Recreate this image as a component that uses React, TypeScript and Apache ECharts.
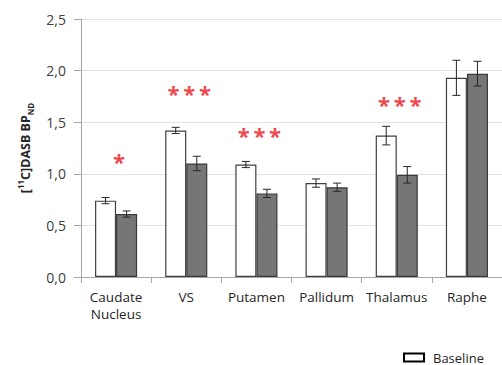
import React, { useEffect, useRef } from "react";
import * as echarts from "echarts";

const categories = ["Caudate\nNucleus", "VS", "Putamen", "Pallidum", "Thalamus", "Raphe"];
const baselineValues = [0.74, 1.42, 1.09, 0.91, 1.37, 1.93];
const baselineErrors = [0.03, 0.03, 0.03, 0.04, 0.09, 0.17];
const treatmentValues = [0.61, 1.10, 0.81, 0.87, 0.99, 1.97];
const treatmentErrors = [0.03, 0.07, 0.04, 0.04, 0.08, 0.12];
const starLabels = ["*", "*\u2009*\u2009*", "*\u2009*\u2009*", "", "*\u2009*\u2009*", ""];
const starHeights = [1.13, 1.79, 1.39, 0, 1.69, 0];
const yTicks = { min: 0, max: 2.5, interval: 0.5 };

const FONT = "'Open Sans', 'Noto Sans', sans-serif";

export default function App() {
  const ref = useRef<HTMLDivElement>(null);
  useEffect(() => {
    if (!ref.current) return;
    const chart = echarts.init(ref.current, null, { renderer: "svg" });

    const errData: number[][] = [];
    baselineValues.forEach((v, i) => errData.push([i, v, baselineErrors[i], -1]));
    treatmentValues.forEach((v, i) => errData.push([i, v, treatmentErrors[i], 1]));

    const starData = starLabels
      .map((s, i) => ({ value: [i, starHeights[i]], label: s }))
      .filter((d) => d.label !== "");

    chart.setOption({
      animation: false,
      backgroundColor: "#ffffff",
      grid: { left: 81, right: 0, top: 19, bottom: 88, containLabel: false },
      legend: {
        data: [{ name: "Baseline", icon: "rect" }],
        left: 398,
        top: 346,
        itemWidth: 20,
        itemHeight: 8,
        itemGap: 8,
        itemStyle: { color: "#ffffff", borderColor: "#000000", borderWidth: 2 },
        textStyle: { fontFamily: FONT, fontSize: 13, color: "#262626", padding: [0, 0, 0, 4] },
      },
      xAxis: {
        type: "category",
        data: categories,
        axisLine: { show: true, lineStyle: { color: "#a6a6a6", width: 1 } },
        axisTick: { show: true, alignWithLabel: false, length: 6, lineStyle: { color: "#a6a6a6" } },
        axisLabel: {
          fontFamily: FONT,
          fontSize: 13.5,
          color: "#262626",
          margin: 11,
          lineHeight: 17,
          interval: 0,
        },
      },
      yAxis: {
        type: "value",
        min: yTicks.min,
        max: yTicks.max,
        interval: yTicks.interval,
        name: "{a|[}{sup|11}{a|C]DASB BP}{sub|ND}",
        nameLocation: "middle",
        nameRotate: 90,
        nameGap: 47,
        nameTextStyle: {
          rich: {
            a: { fontFamily: FONT, fontSize: 12.5, fontWeight: "bold", color: "#262626", lineHeight: 18 },
            sup: { fontFamily: FONT, fontSize: 8, fontWeight: "bold", color: "#262626", verticalAlign: "top", lineHeight: 18, padding: [0, 0, 6, 0] },
            sub: { fontFamily: FONT, fontSize: 8, fontWeight: "bold", color: "#262626", verticalAlign: "bottom", lineHeight: 18, padding: [5, 0, 0, 0] },
          },
        },
        axisLine: { show: true, lineStyle: { color: "#a6a6a6", width: 1 } },
        axisTick: { show: true, length: 7, lineStyle: { color: "#a6a6a6" } },
        axisLabel: {
          fontFamily: FONT,
          fontSize: 14,
          color: "#404040",
          margin: 15,
          formatter: (v: number) => v.toFixed(1).replace(".", ","),
        },
        splitLine: { show: true, lineStyle: { color: "#e3e3e3", width: 1 } },
      },
      series: [
        {
          name: "Baseline",
          type: "bar",
          data: baselineValues,
          barGap: "0%",
          barCategoryGap: "40%",
          itemStyle: { color: "#ffffff", borderColor: "#404040", borderWidth: 1.2 },
        },
        {
          name: "Treatment",
          type: "bar",
          data: treatmentValues,
          itemStyle: { color: "#767676", borderColor: "#3a3a3a", borderWidth: 1.2 },
        },
        {
          name: "errors",
          type: "custom",
          data: errData,
          z: 10,
          renderItem: (params: any, api: any) => {
            const cat = api.value(0);
            const v = api.value(1);
            const e = api.value(2);
            const side = api.value(3);
            const bw = api.size([1, 0])[0] * 0.3;
            const c = api.coord([cat, v]);
            const x = c[0] + side * bw / 2;
            const top = api.coord([cat, v + e])[1];
            const bot = api.coord([cat, v - e])[1];
            const cap = 4;
            const st = { stroke: "#262626", lineWidth: 1 };
            return {
              type: "group",
              children: [
                { type: "line", shape: { x1: x, y1: top, x2: x, y2: bot }, style: st },
                { type: "line", shape: { x1: x - cap, y1: top, x2: x + cap, y2: top }, style: st },
                { type: "line", shape: { x1: x - cap, y1: bot, x2: x + cap, y2: bot }, style: st },
              ],
            };
          },
        },
        {
          name: "stars",
          type: "scatter",
          symbolSize: 0,
          data: starData.map((d) => ({
            value: d.value,
            label: {
              show: true,
              formatter: d.label,
              position: "inside",
              offset: [3, 1],
              color: "#e8141c",
              fontSize: 22,
              fontWeight: "bold",
              fontFamily: FONT,
            },
          })),
          z: 11,
        },
      ],
    });
    return () => chart.dispose();
  }, []);
  return (
    <div
      ref={ref}
      style={{ position: "fixed", left: 0, top: 0, width: 502, height: 365, background: "#fff" }}
    />
  );
}
